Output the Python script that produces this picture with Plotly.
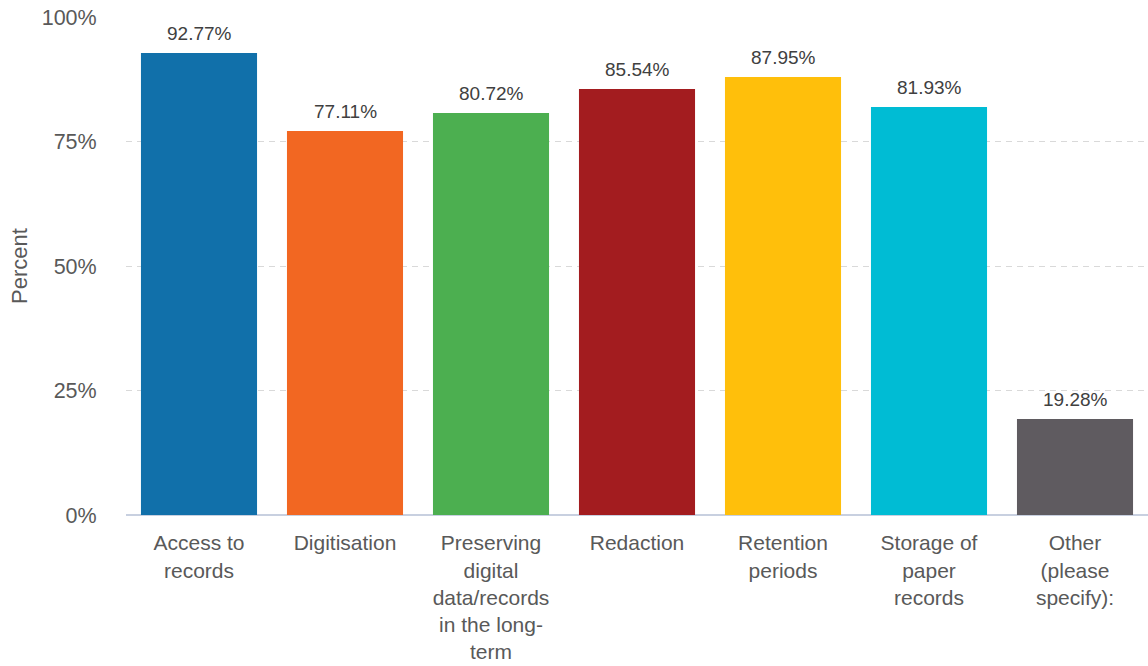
import plotly.graph_objects as go

categories = ["Access to<br>records", "Digitisation", "Preserving<br>digital<br>data/records<br>in the long-<br>term",
              "Redaction", "Retention<br>periods", "Storage of<br>paper<br>records", "Other<br>(please<br>specify):"]
values = [92.77, 77.11, 80.72, 85.54, 87.95, 81.93, 19.28]
colors = ["#1170AA", "#F26722", "#4CAF50", "#A31C1F", "#FFBF0B", "#00BCD4", "#5F5B60"]
y_ticks = [0, 25, 50, 75, 100]
y_tick_labels = ["0%", "25%", "50%", "75%", "100%"]

FONT = "Liberation Sans, Arial, sans-serif"

fig = go.Figure()
fig.add_trace(go.Bar(x=categories, y=values, marker=dict(color=colors, line=dict(width=0)),
                     hoverinfo="skip"))
for c, v in zip(categories, values):
    fig.add_annotation(x=c, y=v, text=f"{v:.2f}%", showarrow=False, yanchor="bottom", yshift=7,
                       font=dict(size=19, color="#404040", family=FONT))

fig.update_layout(
    width=1148, height=666, margin=dict(l=126, r=0, t=17, b=151),
    paper_bgcolor="white", plot_bgcolor="white", bargap=0.205, showlegend=False,
    font=dict(family=FONT, color="#595959"),
    xaxis=dict(tickfont=dict(size=21, color="#595959"), showgrid=False, automargin=False,
               ticks="outside", ticklen=9, tickcolor="rgba(0,0,0,0)",
               showline=False, zeroline=False),
    yaxis=dict(range=[0, 100], tickvals=y_ticks, ticktext=y_tick_labels, automargin=False,
               tickfont=dict(size=21.5, color="#595959"),
               showgrid=True, gridcolor="#D9D9D9", griddash="6px,5px", gridwidth=1,
               zeroline=True, zerolinecolor="#C8D0E0", zerolinewidth=1.5,
               ticks="outside", ticklen=24, tickcolor="rgba(0,0,0,0)",
               title=dict(text="Percent", font=dict(size=22, color="#595959"), standoff=8)),
)
fig.write_html("out.html")
